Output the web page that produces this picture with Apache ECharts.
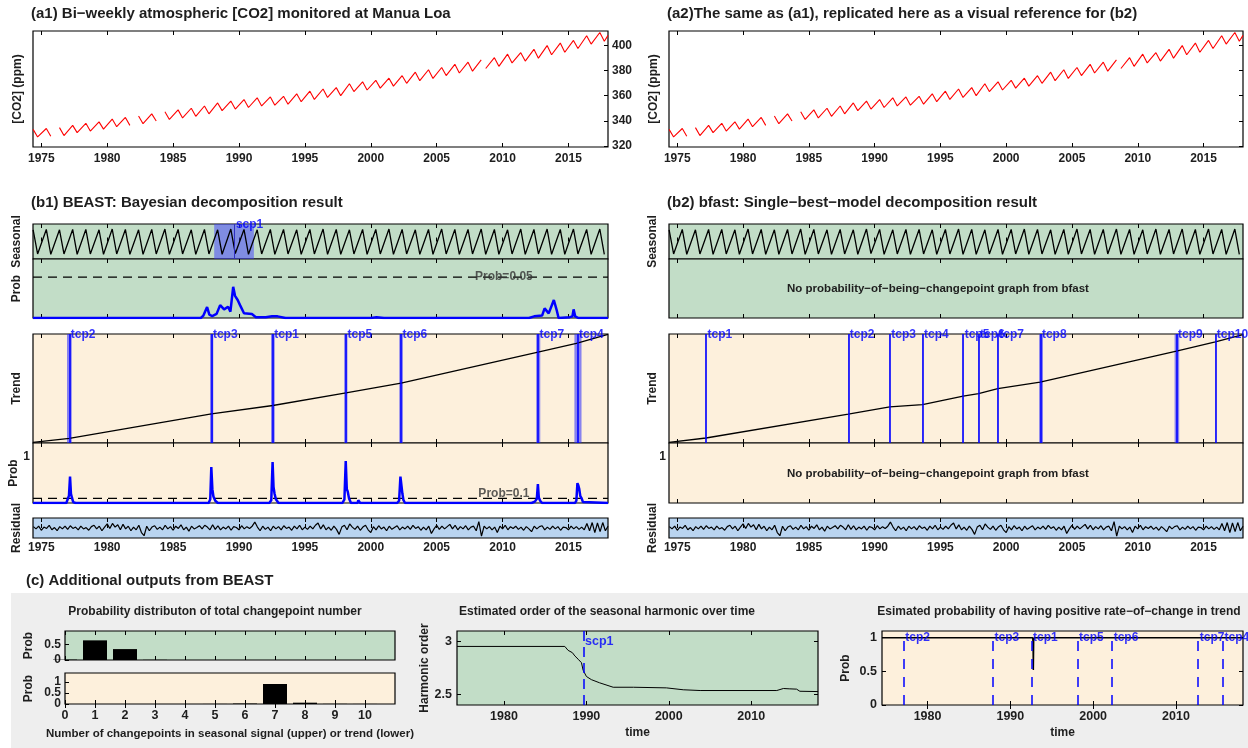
<!DOCTYPE html>
<html>
<head>
<meta charset="utf-8">
<script src="https://cdn.jsdelivr.net/npm/echarts@6/dist/echarts.min.js"></script>
<style>
  html, body { margin: 0; padding: 0; background: #fff; }
  #chart { width: 1248px; height: 748px; }
</style>
</head>
<body>
<div id="chart"></div>
<script>
// ---------------- data ----------------
const years = [1974, 1975, 1976, 1977, 1978, 1979, 1980, 1981, 1982, 1983, 1984, 1985, 1986, 1987, 1988,
  1989, 1990, 1991, 1992, 1993, 1994, 1995, 1996, 1997, 1998, 1999, 2000, 2001, 2002, 2003, 2004,
  2005, 2006, 2007, 2008, 2009, 2010, 2011, 2012, 2013, 2014, 2015, 2016, 2017]
// CO2 (ppm): yearly spring maximum and autumn minimum
const co2Peak = [333.2, 333.9, 334.6, 336.4, 338.0, 339.2, 341.4, 342.7, 343.8, 345.5, 347.2, 348.7, 350.0,
  351.8, 354.2, 355.7, 356.9, 358.3, 359.0, 359.5, 361.5, 363.6, 365.3, 366.4, 369.5, 371.0, 372.2, 373.9,
  375.9, 378.7, 380.6, 382.4, 384.9, 386.6, 388.4, 390.2, 393.0, 394.2, 396.8, 399.8, 401.8, 403.9, 407.6, 410.2]
const co2Trough = [327.2, 327.7, 328.3, 330.6, 331.9, 333.4, 335.3, 336.4, 337.7, 339.8, 341.1, 342.3, 343.6,
  345.6, 348.1, 349.4, 350.6, 351.8, 352.4, 353.2, 355.2, 357.0, 358.6, 360.0, 363.3, 364.5, 366.0, 367.6,
  369.8, 371.9, 373.7, 376.0, 378.0, 379.5, 381.6, 383.3, 386.0, 387.5, 389.8, 392.5, 394.5, 397.5, 401.0, 403.3]
const co2Last = [2018.0, 407.9]
const co2Gaps = [1975.96, 1982.1, 1984.2, 2008.45]
const peakOffset = 0.38
const troughOffset = 0.72

// seasonal component (ppm)
const seasonPeak = [3.0, 3.1, 3.0, 3.1, 3.1, 3.0, 3.2, 3.1, 3.0, 3.1, 3.2, 3.1, 3.0, 3.1, 3.0, 3.2, 3.1, 3.0,
  3.1, 3.1, 3.0, 3.1, 3.2, 3.1, 3.0, 3.1, 3.1, 3.2, 3.1, 3.0, 3.1, 3.2, 3.1, 3.1, 3.2, 3.1, 3.0, 3.2, 3.1, 3.2,
  3.1, 3.2, 3.1, 3.2]
const seasonTrough = [-3.2, -3.3, -3.2, -3.3, -3.2, -3.3, -3.2, -3.3, -3.3, -3.2, -3.3, -3.2, -3.3, -3.2, -3.3,
  -3.1, -3.3, -3.2, -3.3, -3.2, -3.3, -3.2, -3.3, -3.3, -3.2, -3.3, -3.2, -3.3, -3.2, -3.3, -3.3, -3.2, -3.3,
  -3.2, -3.3, -3.3, -3.2, -3.3, -3.2, -3.3, -3.3, -3.2, -3.3, -3.3]

// BEAST seasonal changepoint
const scp1Year = 1989.65
const scp1Lo = 1988.12
const scp1Hi = 1991.13
const seasonProbYear = [1974.37, 1987.1, 1987.3, 1987.58, 1987.75, 1987.97, 1988.3, 1988.57, 1988.87, 1989.17,
  1989.35, 1989.56, 1989.7, 1989.9, 1990.08, 1990.38, 1990.53, 1990.98, 1991.28, 1992.03, 1992.5, 1992.93,
  1993.53, 2000.0, 2000.44, 2001.0, 2012.0, 2012.4, 2013.0, 2013.19, 2013.5, 2013.89, 2014.1, 2014.25,
  2015.1, 2015.3, 2015.39, 2015.51, 2015.75, 2018.0]
const seasonProb = [0, 0, 0.003, 0.0133, 0.004, 0.0024, 0.005, 0.0157, 0.0105, 0.0137,
  0.0077, 0.038, 0.027, 0.022, 0.0157, 0.0057, 0.0077, 0.0048, 0.001, 0.001, 0.002, 0.002,
  0, 0, 0.0008, 0, 0, 0.002, 0.003, 0.0117, 0.0057, 0.022, 0.01, 0,
  0.001, 0.002, 0.0105, 0.002, 0, 0]

// BEAST trend
const b1TrendYear = [1974.37, 1977.13, 1987.91, 1992.57, 1998.12, 2002.3, 2012.69, 2015.6, 2018.0]
const b1TrendValue = [330.0, 332.9, 350.5, 356.5, 365.6, 372.7, 394.9, 401.3, 407.8]
const b1TcpName = ['tcp2', 'tcp3', 'tcp1', 'tcp5', 'tcp6', 'tcp7', 'tcp4']
const b1TcpYear = [1977.13, 1987.91, 1992.57, 1998.12, 2002.3, 2012.69, 2015.69]
const b1TcpLo = [1976.95, 1987.8, 1992.43, 1997.98, 2002.16, 2012.55, 2015.45]
const b1TcpHi = [1977.31, 1988.05, 1992.71, 1998.23, 2002.44, 2012.86, 2015.99]
const trendProbYear = [1974.37, 1976.9, 1977.02, 1977.1, 1977.18, 1977.25, 1977.32, 1977.42, 1977.6,
  1987.7, 1987.82, 1987.9, 1987.98, 1988.06, 1988.2, 1988.4,
  1992.3, 1992.45, 1992.55, 1992.62, 1992.7, 1992.8, 1993.0,
  1997.85, 1998.0, 1998.1, 1998.18, 1998.25, 1998.35, 1998.5,
  1999.0, 1999.05, 1999.12, 1999.2,
  2002.0, 2002.15, 2002.25, 2002.32, 2002.4, 2002.48, 2002.6,
  2011.0, 2011.1, 2011.4, 2012.2, 2012.45, 2012.6, 2012.68, 2012.75, 2012.85, 2013.0,
  2015.5, 2015.6, 2015.68, 2015.75, 2015.82, 2015.9, 2016.0, 2016.1, 2016.2, 2018.0]
const trendProb = [0, 0, 0.04, 0.16, 0.57, 0.2, 0.12, 0.02, 0,
  0, 0.08, 0.78, 0.3, 0.14, 0.05, 0,
  0, 0.06, 0.89, 0.35, 0.2, 0.08, 0,
  0, 0.08, 0.91, 0.3, 0.25, 0.1, 0,
  0, 0.06, 0.07, 0,
  0, 0.05, 0.57, 0.55, 0.2, 0.06, 0,
  0, 0.01, 0, 0, 0.03, 0.09, 0.41, 0.12, 0.05, 0,
  0, 0.05, 0.43, 0.38, 0.3, 0.15, 0.1, 0.02, 0, 0]

// residual, sampled every 0.2 yr from 1974.4
const residStart = 1974.4
const residStep = 0.2
const residual = [0.15, -0.1, 0.2,
  -0.25, 0.1, -0.05, 0.3, -0.2, 0.05, -0.3, 0.15, -0.1, 0.2, -0.15, 0.25, -0.05, 0.1, -0.2,
  0.2, -0.1, 0.05, -0.25, 0.15, 0.3, -0.1, 0.2, -0.3, 0.1, 0.45, -0.05, 0.5, 0.1, 0.35,
  -0.2, 0.4, -0.1, 0.2, -0.3, 0.1, -0.2, 0.3, -0.5, -0.85, 0.2, -0.3, 0.1, 0.25, -0.15,
  0.1, -0.2, 0.3, -0.1, 0.15, -0.25, 0.2, -0.05, 0.35, -0.2, 0.1, -0.35, 0.2, -0.1, 0.05,
  0.25, -0.1, 0.3, 0.1, -0.2, 0.35, -0.15, 0.25, -0.2, 0.1, -0.1, 0.2, -0.25, 0.15, 0.05,
  -0.2, 0.25, -0.1, 0.15, -0.05, 0.2, 0.65, 0.1, -0.3, 0.2, -0.15, 0.1, -0.3, 0.2, -0.1,
  0.15, -0.2, 0.25, -0.05, 0.1, -0.25, 0.2, -0.1, 0.3, -0.2, 0.1, -0.15, 0.2, -0.1, 0.3,
  0.55, -0.1, 0.35, -0.2, 0.1, -0.25, 0.2, -0.15, -0.7, 0.1, 0.3, -0.2, 0.45, 0.1, -0.15,
  0.2, -0.25, 0.1, 0.3, -0.2, -0.5, 0.15, -0.2, 0.25, -0.1, 0.1, -0.3, 0.2, -0.15, 0.05,
  0.25, -0.2, 0.1, -0.1, 0.2, -0.15, 0.3, -0.05, 0.15, -0.25, 0.1, -0.2, 0.2, -0.6, -0.1,
  0.3, -0.15, 0.2, -0.1, 0.15, 0.4, -0.1, 0.3, -0.2, 0.15, -0.1, 0.25, -0.2, 0.1, 0.2,
  -0.3, 0.7, -0.9, 0.2, -0.1, 0.15, -0.2, 0.1, -0.5, 0.2, -0.1, 0.3, -0.2, 0.15, -0.05,
  0.2, -0.15, 0.1, -0.25, 0.15, -0.1, -0.4, 0.2, -0.1, 0.15, 0.25, -0.2, 0.1, -0.15, 0.2,
  -0.1, 0.15, -0.25, 0.1, 0.05, -0.2, 0.2, -0.1, 0.15, -0.15, 0.1, -0.2, 0.5, -0.3, 0.6,
  -0.5, 0.55, -0.4, 0.6, -0.3,
  0.2]

// bfast trend
const b2TrendYear = [1974.37, 1977.18, 1988.0, 1991.15, 1993.64, 1996.73, 1997.9, 1999.36, 2002.58, 2012.94, 2015.9, 2018.0]
const b2TrendValue = [330.0, 333.1, 350.3, 355.5, 357.2, 363.3, 365.1, 368.6, 373.4, 395.6, 402.3, 407.5]
const b2TcpName = ['tcp1', 'tcp2', 'tcp3', 'tcp4', 'tcp5', 'tcp6', 'tcp7', 'tcp8', 'tcp9', 'tcp10']
const b2TcpYear = [1977.18, 1988.0, 1991.15, 1993.64, 1996.73, 1997.9, 1999.36, 2002.6, 2012.95, 2015.9]
const b2TcpLo = [1977.16, 1987.98, 1991.13, 1993.62, 1996.71, 1997.88, 1999.34, 2002.5, 2012.8, 2015.88]
const b2TcpHi = [1977.2, 1988.02, 1991.17, 1993.66, 1996.75, 1997.92, 1999.38, 2002.8, 2013.15, 2015.92]

// (c) changepoint-number distribution
const cpNumber = [0, 1, 2, 3, 4, 5, 6, 7, 8, 9, 10]
const seasonCpProb = [0.012, 0.63, 0.35, 0.006, 0.001, 0, 0, 0, 0, 0, 0]
const trendCpProb = [0, 0, 0, 0, 0, 0.003, 0.02, 0.91, 0.06, 0.006, 0.003]

// (c) harmonic order
const harmYear = [1974.3, 1987.38, 1987.78, 1988.3, 1988.6, 1989.0, 1989.4, 1989.6, 1990.0, 1990.6, 1991.6,
  1993.25, 1995.7, 1999.7, 2001.75, 2003.8, 2013.1, 2013.9, 2014.6, 2015.5, 2015.9, 2018.1]
const harmOrder = [2.954, 2.954, 2.917, 2.895, 2.864, 2.833, 2.8, 2.73, 2.67, 2.64, 2.61,
  2.568, 2.568, 2.562, 2.544, 2.537, 2.537, 2.556, 2.553, 2.55, 2.53, 2.527]

// (c) probability of positive slope
const posYear = [1974.5, 1992.7, 1992.74, 1992.78, 1992.82, 1992.86, 2018.1]
const posProb = [1, 1, 0.93, 0.52, 0.96, 1, 1]

// tick values
const yearTicks = [1975, 1980, 1985, 1990, 1995, 2000, 2005, 2010, 2015]
const decadeTicks = [1980, 1990, 2000, 2010]
const co2Ticks = [320, 340, 360, 380, 400]

// ---------------- chart ----------------
const FONT = '"Liberation Sans", Arial, sans-serif'
const XMIN = 1974.37
const XMAX = 2018.0
const GREEN = '#c2ddc7'
const BEIGE = '#fdf0dc'
const LBLUE = '#b9d4f0'
const BLUE = '#0000ff'
const TXT = '#1e1e1e'

const grids = []
const xAxes = []
const yAxes = []
const series = []

const txt = (size) => ({ fontFamily: FONT, fontWeight: 'bold', fontSize: size, color: TXT })
const plain = v => String(v)

function addGrid (left, top, width, height, bg) {
  grids.push({ left, top, width, height, show: true, backgroundColor: bg, borderColor: '#000', borderWidth: 1.2 })
  return grids.length - 1
}

function labelStyle (ticks, margin, size) {
  return Object.assign({
    show: true, customValues: ticks, margin, formatter: plain,
    hideOverlap: false, showMinLabel: true, showMaxLabel: true
  }, txt(size))
}

function addX (gridIndex, min, max, ticks, opt) {
  const o = opt || {}
  xAxes.push({
    type: 'value', gridIndex, min, max, position: o.position || 'bottom',
    axisLine: { show: false },
    axisTick: { show: !!ticks, inside: true, length: 4, customValues: ticks || [], lineStyle: { color: '#000' } },
    axisLabel: o.labels ? labelStyle(ticks, o.margin || 5, o.size || 12) : { show: false },
    splitLine: { show: false },
    name: o.name || '', nameLocation: 'middle', nameGap: o.nameGap || 20, nameTextStyle: txt(o.nameSize || 12)
  })
  return xAxes.length - 1
}

function addY (gridIndex, min, max, opt) {
  const o = opt || {}
  yAxes.push({
    type: 'value', gridIndex, min, max, position: o.position || 'left',
    axisLine: { show: false },
    axisTick: { show: !!o.ticks, inside: true, length: 4, customValues: o.ticks || [], lineStyle: { color: '#000' } },
    axisLabel: o.labels ? labelStyle(o.labels, o.margin || 5, o.size || 12) : { show: false },
    splitLine: { show: false },
    name: o.name || '', nameLocation: 'middle', nameRotate: 90, nameGap: o.nameGap || 8, nameTextStyle: txt(o.nameSize || 12)
  })
  return yAxes.length - 1
}

function line (xi, yi, data, color, width, extra) {
  series.push(Object.assign({
    type: 'line', xAxisIndex: xi, yAxisIndex: yi, data, showSymbol: false, silent: true,
    lineStyle: { color, width }, z: 3
  }, extra || {}))
}

function labels (xi, yi, pts, color, size, position, offset) {
  series.push({
    type: 'scatter', xAxisIndex: xi, yAxisIndex: yi, symbolSize: 1, itemStyle: { color: 'transparent' },
    silent: true, clip: false, z: 10, data: pts,
    label: Object.assign({ show: true, position, distance: 1, offset: offset || [0, 0], formatter: p => p.data[2] }, txt(size), { color })
  })
}

const zip = (xs, vs) => xs.map((x, i) => [x, vs[i]])

// CO2 series with its small data gaps
const co2Data = []
years.forEach((y, i) => {
  co2Data.push([y + peakOffset, co2Peak[i]])
  co2Data.push([y + troughOffset, co2Trough[i]])
})
co2Data.push(co2Last)
co2Gaps.forEach(g => co2Data.push([g, '-']))
co2Data.sort((a, b) => a[0] - b[0])

const seasonData = []
years.forEach((y, i) => {
  seasonData.push([y + peakOffset, seasonPeak[i]])
  seasonData.push([y + troughOffset, seasonTrough[i]])
})
const residData = residual.map((v, i) => [residStart + i * residStep, v])

// ---- (a1) / (a2) ----
function co2Panel (left, width, showRightLabels) {
  const g = addGrid(left, 31, width, 116, '#fff')
  const xi = addX(g, XMIN, XMAX, yearTicks, { labels: true, margin: 6 })
  addX(g, XMIN, XMAX, yearTicks, { position: 'top' })
  const yi = addY(g, 319.2, 411.4, { position: 'right', ticks: co2Ticks, labels: showRightLabels ? co2Ticks : null, margin: 4 })
  addY(g, 319.2, 411.4, { name: '[CO2] (ppm)', nameGap: 9 })
  line(xi, yi, co2Data, '#ff0000', 1.1)
}
co2Panel(33, 575, true)
co2Panel(669, 574, false)

// ---- (b1) / (b2) ----
function decompPanel (left, width, beast) {
  // seasonal
  let g = addGrid(left, 224, width, 35, GREEN)
  let xi = addX(g, XMIN, XMAX, yearTicks)
  addX(g, XMIN, XMAX, yearTicks, { position: 'top' })
  let yi = addY(g, -4.5, 4.5, { name: 'Seasonal', nameGap: 10 })
  const sExtra = beast ? {
    markArea: { silent: true, itemStyle: { color: 'rgba(60,60,255,0.5)' }, data: [[{ xAxis: scp1Lo }, { xAxis: scp1Hi }]] },
    markLine: { silent: true, symbol: ['none', 'none'], label: { show: false }, lineStyle: { color: '#3030c0', width: 1, type: 'solid' }, data: [{ xAxis: scp1Year }] }
  } : {}
  line(xi, yi, seasonData, '#000', 1.3, sExtra)
  if (beast) labels(xi, yi, [[scp1Year, 4.5, 'scp1']], BLUE, 12, 'right', [0, 1])

  // seasonal changepoint probability
  g = addGrid(left, 259, width, 59, GREEN)
  xi = addX(g, XMIN, XMAX, yearTicks)
  addX(g, XMIN, XMAX, yearTicks, { position: 'top' })
  yi = addY(g, 0, 0.072, { name: beast ? 'Prob' : '', nameGap: 10 })
  if (beast) {
    line(xi, yi, [[XMIN, 0.05], [XMAX, 0.05]], '#000', 1.3, { lineStyle: { color: '#000', width: 1.3, type: [9, 6] } })
    line(xi, yi, zip(seasonProbYear, seasonProb), BLUE, 2.5)
    labels(xi, yi, [[2010.1, 0.05, 'Prob=0.05']], '#333', 12, 'inside')
  }

  // trend
  g = addGrid(left, 334, width, 109, BEIGE)
  xi = addX(g, XMIN, XMAX, yearTicks)
  addX(g, XMIN, XMAX, yearTicks, { position: 'top' })
  yi = addY(g, 329.5, 408, { name: 'Trend', nameGap: 10 })
  const ty = beast ? b1TrendYear : b2TrendYear
  const tv = beast ? b1TrendValue : b2TrendValue
  const cy = beast ? b1TcpYear : b2TcpYear
  const lo = beast ? b1TcpLo : b2TcpLo
  const hi = beast ? b1TcpHi : b2TcpHi
  const nm = beast ? b1TcpName : b2TcpName
  line(xi, yi, zip(ty, tv), '#000', 1.3, {
    markArea: { silent: true, itemStyle: { color: 'rgba(40,40,255,0.55)' }, data: lo.map((l, i) => [{ xAxis: l }, { xAxis: hi[i] }]) },
    markLine: { silent: true, symbol: ['none', 'none'], label: { show: false }, lineStyle: { color: BLUE, width: 1.6, type: 'solid' }, data: cy.map(x => ({ xAxis: x })) }
  })
  labels(xi, yi, cy.map((x, i) => [x, 408, nm[i]]), BLUE, 12, 'right', [0, 1])

  // trend changepoint probability
  g = addGrid(left, 443, width, 60, BEIGE)
  xi = addX(g, XMIN, XMAX, yearTicks)
  addX(g, XMIN, XMAX, yearTicks, { position: 'top' })
  yi = addY(g, 0, 1.3, { name: beast ? 'Prob' : '', nameGap: 10, labels: [1], margin: 3 })
  if (beast) {
    line(xi, yi, [[XMIN, 0.1], [XMAX, 0.1]], '#000', 1.3, { lineStyle: { color: '#000', width: 1.3, type: [9, 6] } })
    line(xi, yi, zip(trendProbYear, trendProb), BLUE, 2.5)
    labels(xi, yi, [[2010.1, 0.1, 'Prob=0.1']], '#333', 12, 'inside', [0, -5])
  }

  // residual
  g = addGrid(left, 518, width, 20, LBLUE)
  xi = addX(g, XMIN, XMAX, yearTicks, { labels: true, margin: 4 })
  addX(g, XMIN, XMAX, yearTicks, { position: 'top' })
  yi = addY(g, -1.1, 1.1, { name: 'Residual', nameGap: 10 })
  line(xi, yi, residData, '#000', 1.2)
}
decompPanel(33, 575, true)
decompPanel(669, 574, false)

// ---- (c1) changepoint numbers ----
let g = addGrid(65, 631, 330, 29, GREEN)
let xi = addX(g, 0, 11, cpNumber)
addX(g, 0, 11, cpNumber, { position: 'top' })
let yi = addY(g, 0, 0.93, { ticks: [0, 0.5], labels: [0, 0.5], margin: 4, name: 'Prob', nameGap: 30 })
series.push({ type: 'bar', xAxisIndex: xi, yAxisIndex: yi, barWidth: 24, itemStyle: { color: '#000' }, silent: true, data: zip(cpNumber, seasonCpProb) })

g = addGrid(65, 673, 330, 31, BEIGE)
xi = addX(g, 0, 11, cpNumber, { labels: true, margin: 5, size: 12.5, name: 'Number of changepoints in seasonal signal (upper) or trend (lower)', nameGap: 24, nameSize: 11.5 })
addX(g, 0, 11, cpNumber, { position: 'top' })
yi = addY(g, 0, 1.41, { ticks: [0, 0.5, 1], labels: [0, 1], margin: 4, name: 'Prob', nameGap: 30 })
// the tightly packed middle label sits on its own axis so it is not dropped as an overlap
addY(g, 0, 1.41, { labels: [0.5], margin: 4 })
series.push({ type: 'bar', xAxisIndex: xi, yAxisIndex: yi, barWidth: 24, itemStyle: { color: '#000' }, silent: true, data: zip(cpNumber, trendCpProb) })

// ---- (c2) harmonic order ----
g = addGrid(457, 631, 361, 74, GREEN)
xi = addX(g, 1974.3, 2018.1, decadeTicks, { labels: true, margin: 5, size: 12.5, name: 'time', nameGap: 22 })
addX(g, 1974.3, 2018.1, decadeTicks, { position: 'top' })
yi = addY(g, 2.4, 3.1, { ticks: [2.5, 3], labels: [2.5, 3], margin: 5, size: 12.5, name: 'Harmonic order', nameGap: 26 })
addY(g, 2.4, 3.1, { position: 'right', ticks: [2.5, 3] })
line(xi, yi, zip(harmYear, harmOrder), '#000', 1, {
  markLine: { silent: true, symbol: ['none', 'none'], label: { show: false }, lineStyle: { color: BLUE, width: 1.5, type: [10, 6] }, data: [{ xAxis: scp1Year }] }
})
labels(xi, yi, [[scp1Year, 3.0, 'scp1']], BLUE, 12.5, 'right')

// ---- (c3) probability of positive rate of change ----
g = addGrid(882, 631, 361, 74, BEIGE)
xi = addX(g, 1974.5, 2018.1, decadeTicks, { labels: true, margin: 5, size: 12.5, name: 'time', nameGap: 22 })
addX(g, 1974.5, 2018.1, decadeTicks, { position: 'top' })
yi = addY(g, 0, 1.1, { ticks: [0, 0.5, 1], labels: [0, 0.5, 1], margin: 5, size: 12.5, name: 'Prob', nameGap: 30 })
addY(g, 0, 1.1, { position: 'right', ticks: [0, 0.5, 1] })
line(xi, yi, zip(posYear, posProb), '#000', 1.5, {
  markLine: {
    silent: true, symbol: ['none', 'none'], label: { show: false },
    lineStyle: { color: BLUE, width: 1.5, type: [10, 8] },
    data: b1TcpYear.map(x => [{ coord: [x, 0] }, { coord: [x, 1] }])
  }
})
labels(xi, yi, b1TcpYear.map((x, i) => [x, 1.0, b1TcpName[i]]), BLUE, 12, 'right')

// ---- titles and notes ----
const head = (text, left, top, size, align) => ({
  text, left, top, padding: 0, textAlign: align || 'left',
  textStyle: txt(size)
})
const titles = [
  head('(a1) Bi\u2212weekly atmospheric [CO2] monitored at Manua Loa', 31, 6, 15),
  head('(a2)The same as (a1), replicated here as a visual reference for (b2)', 667, 6, 15),
  head('(b1) BEAST: Bayesian decomposition result', 31, 195, 15),
  head('(b2) bfast: Single\u2212best\u2212model decomposition result', 667, 195, 15),
  head('(c) Additional outputs from BEAST', 26, 573, 15),
  head('Probability distributon of total changepoint number', 215, 606, 12, 'center'),
  head('Estimated order of the seasonal harmonic over time', 607, 606, 12, 'center'),
  head('Esimated probability of having positive rate\u2212of\u2212change in trend', 1059, 606, 12, 'center'),
  head('No probability\u2212of\u2212being\u2212changepoint graph from bfast', 938, 283, 11.5, 'center'),
  head('No probability\u2212of\u2212being\u2212changepoint graph from bfast', 938, 468, 11.5, 'center')
]

const chart = echarts.init(document.getElementById('chart'))
chart.setOption({
  animation: false,
  backgroundColor: '#fff',
  title: titles,
  graphic: [{ type: 'rect', z: -100, silent: true, shape: { x: 11, y: 593, width: 1237, height: 155 }, style: { fill: '#eeeeee' } }],
  grid: grids,
  xAxis: xAxes,
  yAxis: yAxes,
  series
})
</script>
</body>
</html>
